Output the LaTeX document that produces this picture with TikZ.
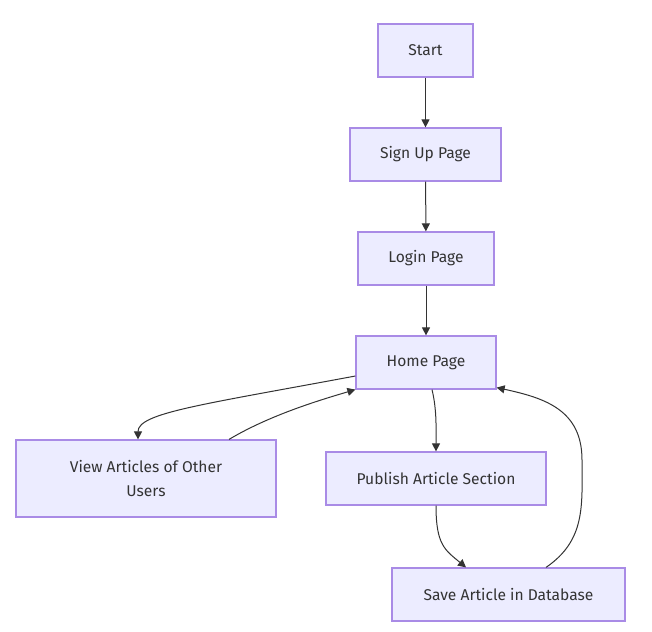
\documentclass[tikz,border=0pt]{standalone}
\usepackage{fontspec}
\setmainfont{Fira Sans}
\usetikzlibrary{arrows.meta}
\definecolor{boxfill}{HTML}{ECECFF}
\definecolor{boxline}{HTML}{A98BE6}
\definecolor{edge}{HTML}{333333}
\tikzset{
  box/.style={draw=boxline, fill=boxfill, line width=1.2pt, rectangle,
    inner sep=0pt, font=\fontsize{15.6}{24}\selectfont, text=edge, align=center},
  arr/.style={draw=edge, line width=1pt, -{Triangle[length=8pt,width=8pt]}}
}
\begin{document}
\begin{tikzpicture}[x=1pt,y=-1pt]
\useasboundingbox[fill=white] (0,0) rectangle (652,631);
\node[box, minimum width=95pt, minimum height=53pt] (start) at (425.5,50.5) {Start};
\node[box, minimum width=151pt, minimum height=53pt] (signup) at (425.5,154.5) {Sign Up Page};
\node[box, minimum width=136pt, minimum height=53pt] (login) at (426,258.5) {Login Page};
\node[box, minimum width=140pt, minimum height=53pt] (home) at (426,362.5) {Home Page};
\node[box, minimum width=260pt, minimum height=77pt] (view) at (146,478.5) {View Articles of Other\\Users};
\node[box, minimum width=220pt, minimum height=53pt] (publish) at (436,478.5) {Publish Article Section};
\node[box, minimum width=233pt, minimum height=53pt] (save) at (508.5,594.5) {Save Article in Database};

\draw[arr] (start) -- (signup);
\draw[arr] (signup) -- (login);
\draw[arr] (login) -- (home);
\draw[arr] ([yshift=-13.5pt]home.west) .. controls (200,405) and (138,413) .. ([xshift=-8pt]view.north);
\draw[arr] ([xshift=83pt]view.north) .. controls (270,415) and (320,400) .. (home.south west);
\draw[arr] ([xshift=6pt]home.south) .. controls (437,410) and (436,430) .. (publish.north);
\draw[arr] (publish.south) .. controls (436,545) and (445,550) .. ([xshift=-42.5pt]save.north);
\draw[arr] ([xshift=37.5pt]save.north) .. controls (586,540) and (582,505) .. (582,460)
  .. controls (582,410) and (545,398) .. ([yshift=2pt]home.south east);
\end{tikzpicture}
\end{document}
